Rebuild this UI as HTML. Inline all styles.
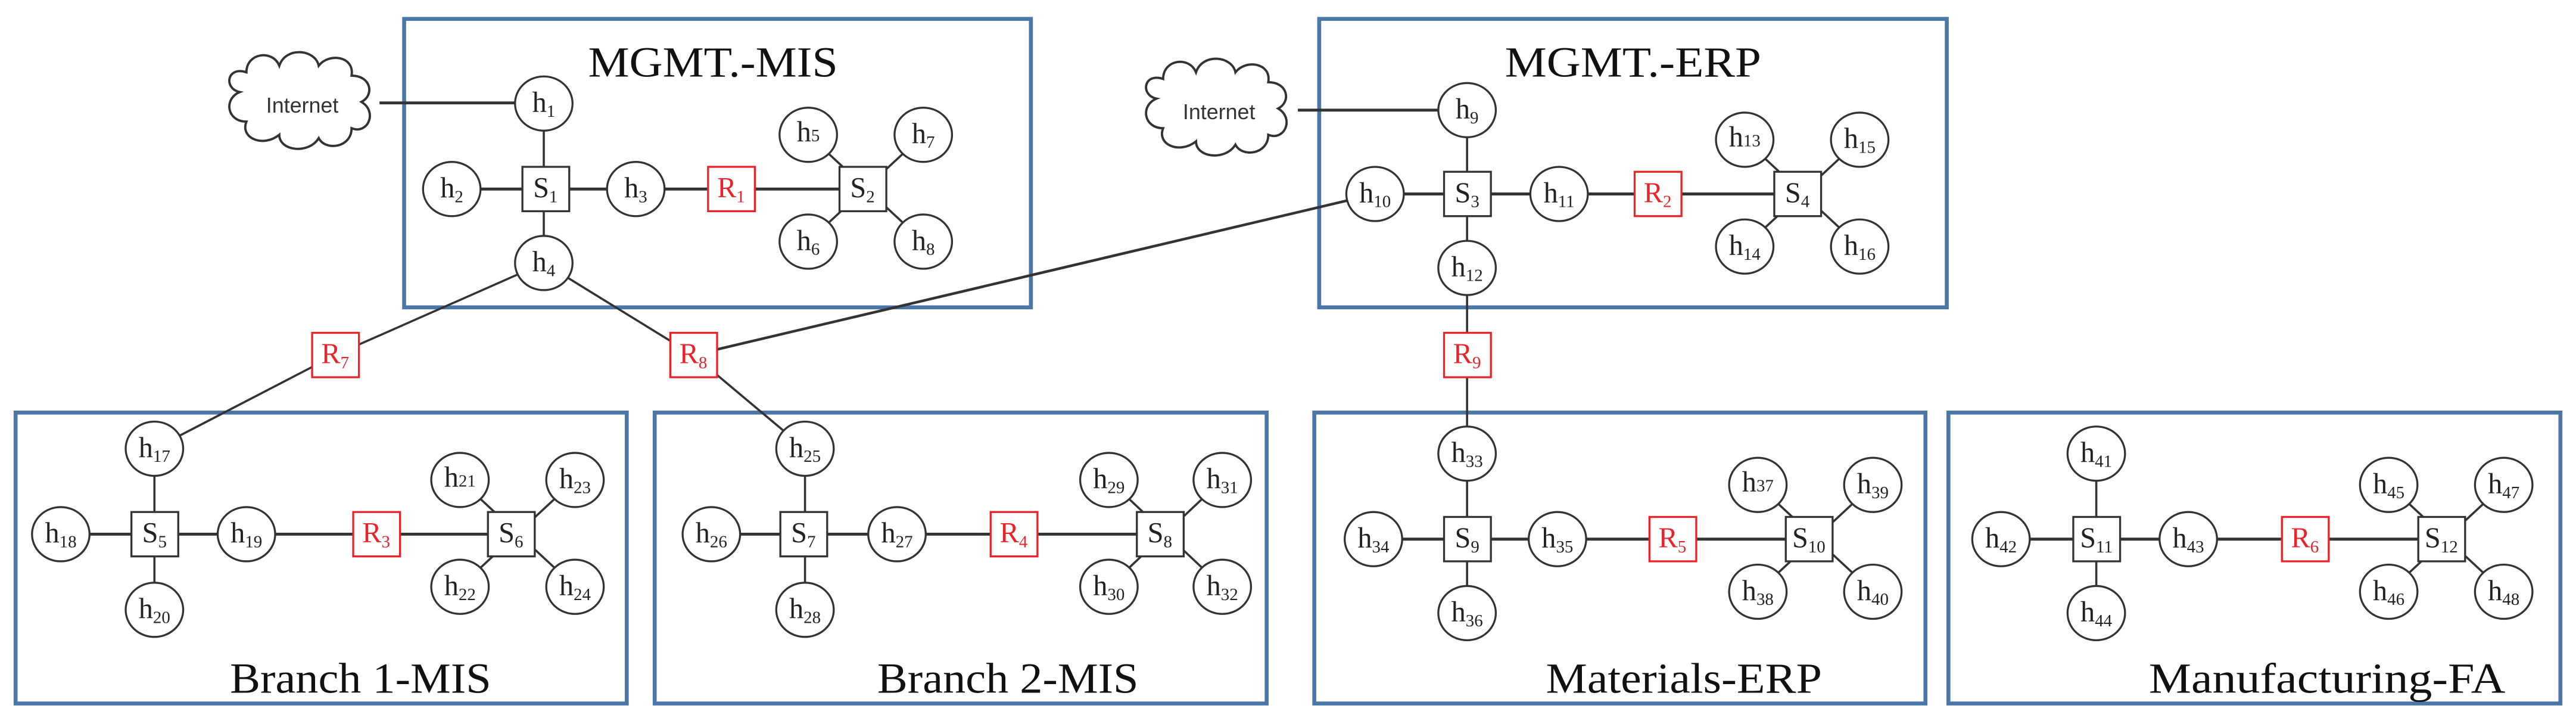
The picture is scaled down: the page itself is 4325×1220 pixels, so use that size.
<!DOCTYPE html>
<html><head><meta charset="utf-8"><style>
html,body{margin:0;padding:0;background:#fff}
svg{display:block}
text{font-family:"Liberation Serif",serif}
.n{font-size:17.5px;fill:#222;text-anchor:middle}
.r{font-size:17.5px;fill:#e8242a;text-anchor:middle}
.s{font-size:10.5px}
.t{font-size:26px;fill:#111;text-anchor:middle}
.c{font-family:"Liberation Sans",sans-serif;font-size:13px;fill:#333;text-anchor:middle}
</style></head><body>
<svg width="4325" height="1220" viewBox="0 0 1568 442.3" xmlns="http://www.w3.org/2000/svg">
<defs>
<path id="cl" d="M-38,-8 C-48,-10 -46,-24 -34,-20 C-34,-32 -18,-34 -14,-24 C-10,-36 8,-34 10,-24 C16,-32 32,-30 30,-18 C42,-18 44,-6 36,-2 C46,4 40,18 30,14 C30,26 14,28 10,20 C4,30 -14,28 -14,18 C-24,26 -38,20 -34,10 C-46,10 -48,-4 -38,-8 Z"/>
</defs>
<g fill="none" stroke="#4a76a8" stroke-width="2.4">
<rect x="246" y="11.5" width="381.5" height="175.5"/>
<rect x="803" y="11.5" width="382" height="175.5"/>
<rect x="9.5" y="251" width="372" height="177"/>
<rect x="398.5" y="251" width="372.5" height="177"/>
<rect x="800" y="251" width="372" height="177"/>
<rect x="1186" y="251" width="372.5" height="177"/>
</g>
<g stroke="#333" stroke-width="1.3" fill="none">
<!-- inter links -->
<line x1="231" y1="62.6" x2="331" y2="62.6" stroke-width="1.8"/>
<line x1="790" y1="67" x2="893" y2="67" stroke-width="1.8"/>
<line x1="331" y1="160" x2="204" y2="216"/>
<line x1="204" y1="216" x2="94" y2="273"/>
<line x1="331" y1="160" x2="422" y2="216"/>
<line x1="422" y1="216" x2="490" y2="273"/>
<line x1="422" y1="216" x2="837" y2="118" stroke-width="1.6"/>
<line x1="893" y1="163" x2="893" y2="276"/>
<!-- MIS -->
<line x1="331" y1="63" x2="331" y2="160"/>
<line x1="275" y1="115" x2="525" y2="115" stroke-width="1.8"/>
<line x1="492" y1="82" x2="562" y2="147"/><line x1="562" y1="82" x2="492" y2="147"/>
<!-- ERP -->
<line x1="893" y1="67" x2="893" y2="163"/>
<line x1="837" y1="118" x2="1094" y2="118" stroke-width="1.8"/>
<line x1="1062" y1="85" x2="1132" y2="150"/><line x1="1132" y1="85" x2="1062" y2="150"/>
<!-- B1 -->
<line x1="94" y1="273" x2="94" y2="371"/>
<line x1="37" y1="325" x2="311" y2="325" stroke-width="1.8"/>
<line x1="280" y1="292" x2="350" y2="357"/><line x1="350" y1="292" x2="280" y2="357"/>
<!-- B2 -->
<line x1="490" y1="273" x2="490" y2="371"/>
<line x1="433" y1="325" x2="706" y2="325" stroke-width="1.8"/>
<line x1="675" y1="292" x2="744" y2="357"/><line x1="744" y1="292" x2="675" y2="357"/>
<!-- Mat -->
<line x1="893" y1="276" x2="893" y2="373"/>
<line x1="836" y1="328" x2="1101" y2="328" stroke-width="1.8"/>
<line x1="1070" y1="295" x2="1140" y2="360"/><line x1="1140" y1="295" x2="1070" y2="360"/>
<!-- Manuf -->
<line x1="1276" y1="276" x2="1276" y2="373"/>
<line x1="1218" y1="328" x2="1486" y2="328" stroke-width="1.8"/>
<line x1="1454" y1="295" x2="1524" y2="360"/><line x1="1524" y1="295" x2="1454" y2="360"/>
</g>
<!-- clouds -->
<g fill="#fff" stroke="#333" stroke-width="1.4">
<use href="#cl" x="184" y="64"/>
<use href="#cl" x="742" y="68"/>
</g>
<text class="c" x="184" y="68.5">Internet</text>
<text class="c" x="742" y="72.5">Internet</text>
<!-- hosts -->
<g fill="#fff" stroke="#333" stroke-width="1.2">
<ellipse cx="331" cy="63" rx="17.5" ry="16.5"/><ellipse cx="275" cy="115" rx="17.5" ry="16.5"/><ellipse cx="387" cy="115" rx="17.5" ry="16.5"/><ellipse cx="331" cy="160" rx="17.5" ry="16.5"/>
<ellipse cx="492" cy="82" rx="17.5" ry="16.5"/><ellipse cx="562" cy="82" rx="17.5" ry="16.5"/><ellipse cx="492" cy="147" rx="17.5" ry="16.5"/><ellipse cx="562" cy="147" rx="17.5" ry="16.5"/>
<ellipse cx="893" cy="67" rx="17.5" ry="16.5"/><ellipse cx="837" cy="118" rx="17.5" ry="16.5"/><ellipse cx="949" cy="118" rx="17.5" ry="16.5"/><ellipse cx="893" cy="163" rx="17.5" ry="16.5"/>
<ellipse cx="1062" cy="85" rx="17.5" ry="16.5"/><ellipse cx="1132" cy="85" rx="17.5" ry="16.5"/><ellipse cx="1062" cy="150" rx="17.5" ry="16.5"/><ellipse cx="1132" cy="150" rx="17.5" ry="16.5"/>
<ellipse cx="94" cy="273" rx="17.5" ry="16.5"/><ellipse cx="37" cy="325" rx="17.5" ry="16.5"/><ellipse cx="150" cy="325" rx="17.5" ry="16.5"/><ellipse cx="94" cy="371" rx="17.5" ry="16.5"/>
<ellipse cx="280" cy="292" rx="17.5" ry="16.5"/><ellipse cx="350" cy="292" rx="17.5" ry="16.5"/><ellipse cx="280" cy="357" rx="17.5" ry="16.5"/><ellipse cx="350" cy="357" rx="17.5" ry="16.5"/>
<ellipse cx="490" cy="273" rx="17.5" ry="16.5"/><ellipse cx="433" cy="325" rx="17.5" ry="16.5"/><ellipse cx="546" cy="325" rx="17.5" ry="16.5"/><ellipse cx="490" cy="371" rx="17.5" ry="16.5"/>
<ellipse cx="675" cy="292" rx="17.5" ry="16.5"/><ellipse cx="744" cy="292" rx="17.5" ry="16.5"/><ellipse cx="675" cy="357" rx="17.5" ry="16.5"/><ellipse cx="744" cy="357" rx="17.5" ry="16.5"/>
<ellipse cx="893" cy="276" rx="17.5" ry="16.5"/><ellipse cx="836" cy="328" rx="17.5" ry="16.5"/><ellipse cx="948" cy="328" rx="17.5" ry="16.5"/><ellipse cx="893" cy="373" rx="17.5" ry="16.5"/>
<ellipse cx="1070" cy="295" rx="17.5" ry="16.5"/><ellipse cx="1140" cy="295" rx="17.5" ry="16.5"/><ellipse cx="1070" cy="360" rx="17.5" ry="16.5"/><ellipse cx="1140" cy="360" rx="17.5" ry="16.5"/>
<ellipse cx="1276" cy="276" rx="17.5" ry="16.5"/><ellipse cx="1218" cy="328" rx="17.5" ry="16.5"/><ellipse cx="1332" cy="328" rx="17.5" ry="16.5"/><ellipse cx="1276" cy="373" rx="17.5" ry="16.5"/>
<ellipse cx="1454" cy="295" rx="17.5" ry="16.5"/><ellipse cx="1524" cy="295" rx="17.5" ry="16.5"/><ellipse cx="1454" cy="360" rx="17.5" ry="16.5"/><ellipse cx="1524" cy="360" rx="17.5" ry="16.5"/>
<!-- switches -->
<rect x="318" y="101.5" width="28.5" height="27"/><rect x="511" y="101.5" width="28.5" height="27"/>
<rect x="879" y="104.5" width="28.5" height="27"/><rect x="1080" y="104.5" width="28.5" height="27"/>
<rect x="80" y="311.5" width="28.5" height="27"/><rect x="297" y="311.5" width="28.5" height="27"/>
<rect x="475" y="311.5" width="28.5" height="27"/><rect x="692" y="311.5" width="28.5" height="27"/>
<rect x="879" y="314.5" width="28.5" height="27"/><rect x="1087" y="314.5" width="28.5" height="27"/>
<rect x="1262" y="314.5" width="28.5" height="27"/><rect x="1472" y="314.5" width="28.5" height="27"/>
</g>
<g fill="#fff" stroke="#e8242a" stroke-width="1.2">
<rect x="431" y="101.5" width="28.5" height="27"/><rect x="995" y="104.5" width="28.5" height="27"/>
<rect x="215" y="311.5" width="28.5" height="27"/><rect x="603" y="311.5" width="28.5" height="27"/>
<rect x="1004" y="314.5" width="28.5" height="27"/><rect x="1389" y="314.5" width="28.5" height="27"/>
<rect x="190" y="202.5" width="28.5" height="27"/><rect x="408" y="202.5" width="28.5" height="27"/><rect x="879" y="202.5" width="28.5" height="27"/>
</g>
<!-- labels -->
<g class="n">
<text x="331" y="68">h<tspan class="s" dy="3">1</tspan></text>
<text x="275" y="120">h<tspan class="s" dy="3">2</tspan></text>
<text x="387" y="120">h<tspan class="s" dy="3">3</tspan></text>
<text x="331" y="165">h<tspan class="s" dy="3">4</tspan></text>
<text x="492" y="86">h<tspan class="s">5</tspan></text>
<text x="562" y="87">h<tspan class="s" dy="3">7</tspan></text>
<text x="492" y="152">h<tspan class="s" dy="3">6</tspan></text>
<text x="562" y="152">h<tspan class="s" dy="3">8</tspan></text>
<text x="332" y="120">S<tspan class="s" dy="3">1</tspan></text>
<text x="525" y="120">S<tspan class="s" dy="3">2</tspan></text>
<text x="893" y="72">h<tspan class="s" dy="3">9</tspan></text>
<text x="837" y="123">h<tspan class="s" dy="3">10</tspan></text>
<text x="949" y="123">h<tspan class="s" dy="3">11</tspan></text>
<text x="893" y="168">h<tspan class="s" dy="3">12</tspan></text>
<text x="1062" y="89">h<tspan class="s">13</tspan></text>
<text x="1132" y="90">h<tspan class="s" dy="3">15</tspan></text>
<text x="1062" y="155">h<tspan class="s" dy="3">14</tspan></text>
<text x="1132" y="155">h<tspan class="s" dy="3">16</tspan></text>
<text x="893" y="123">S<tspan class="s" dy="3">3</tspan></text>
<text x="1094" y="123">S<tspan class="s" dy="3">4</tspan></text>
<text x="94" y="278">h<tspan class="s" dy="3">17</tspan></text>
<text x="37" y="330">h<tspan class="s" dy="3">18</tspan></text>
<text x="150" y="330">h<tspan class="s" dy="3">19</tspan></text>
<text x="94" y="376">h<tspan class="s" dy="3">20</tspan></text>
<text x="280" y="296">h<tspan class="s">21</tspan></text>
<text x="350" y="297">h<tspan class="s" dy="3">23</tspan></text>
<text x="280" y="362">h<tspan class="s" dy="3">22</tspan></text>
<text x="350" y="362">h<tspan class="s" dy="3">24</tspan></text>
<text x="94" y="330">S<tspan class="s" dy="3">5</tspan></text>
<text x="311" y="330">S<tspan class="s" dy="3">6</tspan></text>
<text x="490" y="278">h<tspan class="s" dy="3">25</tspan></text>
<text x="433" y="330">h<tspan class="s" dy="3">26</tspan></text>
<text x="546" y="330">h<tspan class="s" dy="3">27</tspan></text>
<text x="490" y="376">h<tspan class="s" dy="3">28</tspan></text>
<text x="675" y="297">h<tspan class="s" dy="3">29</tspan></text>
<text x="744" y="297">h<tspan class="s" dy="3">31</tspan></text>
<text x="675" y="362">h<tspan class="s" dy="3">30</tspan></text>
<text x="744" y="362">h<tspan class="s" dy="3">32</tspan></text>
<text x="489" y="330">S<tspan class="s" dy="3">7</tspan></text>
<text x="706" y="330">S<tspan class="s" dy="3">8</tspan></text>
<text x="893" y="281">h<tspan class="s" dy="3">33</tspan></text>
<text x="836" y="333">h<tspan class="s" dy="3">34</tspan></text>
<text x="948" y="333">h<tspan class="s" dy="3">35</tspan></text>
<text x="893" y="378">h<tspan class="s" dy="3">36</tspan></text>
<text x="1070" y="299">h<tspan class="s">37</tspan></text>
<text x="1140" y="300">h<tspan class="s" dy="3">39</tspan></text>
<text x="1070" y="365">h<tspan class="s" dy="3">38</tspan></text>
<text x="1140" y="365">h<tspan class="s" dy="3">40</tspan></text>
<text x="893" y="333">S<tspan class="s" dy="3">9</tspan></text>
<text x="1101" y="333">S<tspan class="s" dy="3">10</tspan></text>
<text x="1276" y="281">h<tspan class="s" dy="3">41</tspan></text>
<text x="1218" y="333">h<tspan class="s" dy="3">42</tspan></text>
<text x="1332" y="333">h<tspan class="s" dy="3">43</tspan></text>
<text x="1276" y="378">h<tspan class="s" dy="3">44</tspan></text>
<text x="1454" y="300">h<tspan class="s" dy="3">45</tspan></text>
<text x="1524" y="300">h<tspan class="s" dy="3">47</tspan></text>
<text x="1454" y="365">h<tspan class="s" dy="3">46</tspan></text>
<text x="1524" y="365">h<tspan class="s" dy="3">48</tspan></text>
<text x="1276" y="333">S<tspan class="s" dy="3">11</tspan></text>
<text x="1486" y="333">S<tspan class="s" dy="3">12</tspan></text>
</g>
<g class="r">
<text x="445" y="120">R<tspan class="s" dy="3">1</tspan></text>
<text x="1009" y="123">R<tspan class="s" dy="3">2</tspan></text>
<text x="229" y="330">R<tspan class="s" dy="3">3</tspan></text>
<text x="617" y="330">R<tspan class="s" dy="3">4</tspan></text>
<text x="1018" y="333">R<tspan class="s" dy="3">5</tspan></text>
<text x="1403" y="333">R<tspan class="s" dy="3">6</tspan></text>
<text x="204" y="221">R<tspan class="s" dy="3">7</tspan></text>
<text x="422" y="221">R<tspan class="s" dy="3">8</tspan></text>
<text x="893" y="221">R<tspan class="s" dy="3">9</tspan></text>
</g>
<g class="t">
<text x="434" y="46.5" textLength="152" lengthAdjust="spacingAndGlyphs">MGMT.-MIS</text>
<text x="994" y="46.5" textLength="156" lengthAdjust="spacingAndGlyphs">MGMT.-ERP</text>
<text x="219.5" y="421.5" textLength="159" lengthAdjust="spacingAndGlyphs">Branch 1-MIS</text>
<text x="613.5" y="421.5" textLength="159" lengthAdjust="spacingAndGlyphs">Branch 2-MIS</text>
<text x="1025" y="421.5" textLength="168" lengthAdjust="spacingAndGlyphs">Materials-ERP</text>
<text x="1416.5" y="421.5" textLength="217" lengthAdjust="spacingAndGlyphs">Manufacturing-FA</text>
</g>
</svg>
</body></html>
